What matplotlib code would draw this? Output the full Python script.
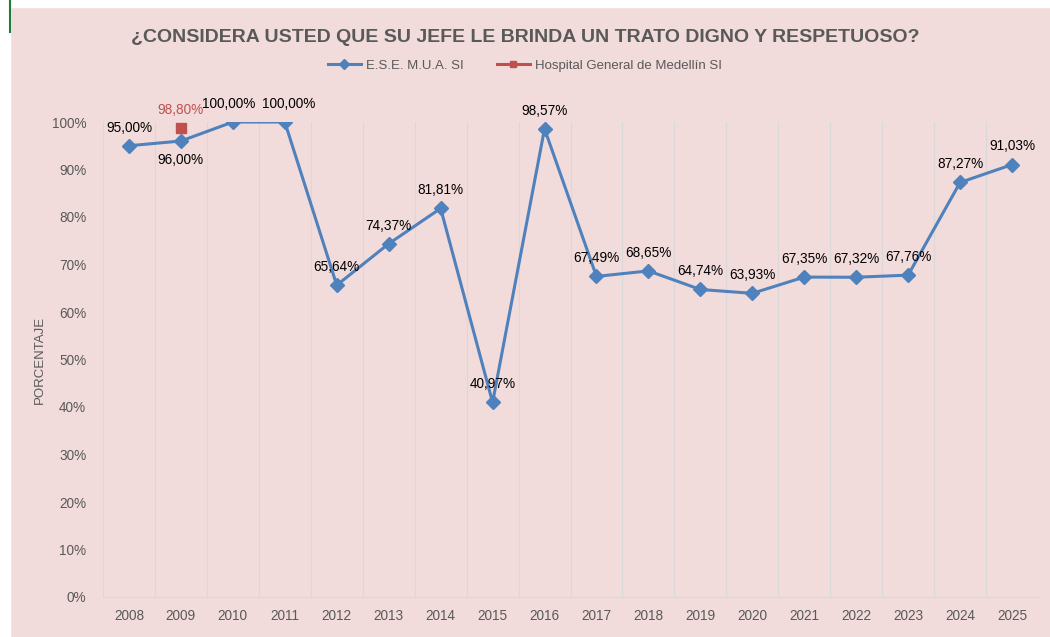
import matplotlib
matplotlib.use("Agg")
import matplotlib.pyplot as plt
from matplotlib.lines import Line2D
from matplotlib.ticker import PercentFormatter

years = [str(y) for y in range(2008, 2026)]
ese = [95.00, 96.00, 100.00, 100.00, 65.64, 74.37, 81.81, 40.97, 98.57,
       67.49, 68.65, 64.74, 63.93, 67.35, 67.32, 67.76, 87.27, 91.03]
hosp_year = "2009"
hosp_val = 98.80

bg = "#F2DCDB"
blue = "#4F81BD"
red = "#C0504D"
gray = "#595959"

plt.rcParams['font.family'] = ['Liberation Sans', 'DejaVu Sans']

fig = plt.figure(figsize=(10.5, 6.37), dpi=100)
fig.patch.set_facecolor(bg)
# white strip on top and left like the sheet border
fig.add_artist(plt.Rectangle((0, 1 - 7/637), 1, 7/637, transform=fig.transFigure,
                             color="white", zorder=0))
fig.add_artist(plt.Rectangle((0, 0), 10/1050, 1, transform=fig.transFigure,
                             color="white", zorder=0))
fig.add_artist(Line2D([10/1050, 10/1050], [0.95, 1], transform=fig.transFigure,
                      color="#1E7B3C", lw=1.5))

ax = fig.add_axes([103/1050, 40/637, 935/1050, 475/637])
ax.set_facecolor(bg)

x = list(range(len(years)))
ax.plot(x, ese, color=blue, lw=2.2, marker="D", markersize=7)
hx = years.index(hosp_year)
ax.plot([hx], [hosp_val], color=red, marker="s", markersize=7, linestyle="none")

def fmt(v):
    return f"{v:.2f}".replace(".", ",") + "%"

for i, v in enumerate(ese):
    dx = 0
    if years[i] == "2010":
        dx = -3
    if years[i] == "2011":
        dx = 3
    if years[i] == "2009":
        ax.annotate(fmt(v), (i, v), xytext=(0, -9), textcoords="offset points",
                    ha="center", va="top", fontsize=9.8, color="black")
    else:
        ax.annotate(fmt(v), (i, v), xytext=(dx, 8), textcoords="offset points",
                    ha="center", va="bottom", fontsize=9.8, color="black")
ax.annotate(fmt(hosp_val), (hx, hosp_val), xytext=(0, 8), textcoords="offset points",
            ha="center", va="bottom", fontsize=9.8, color=red)

ax.set_xlim(-0.5, len(years) - 0.5)
ax.set_ylim(0, 100)
ax.set_yticks(range(0, 101, 10))
ax.yaxis.set_major_formatter(PercentFormatter(decimals=0))
ax.set_xticks(x)
ax.set_xticklabels(years)
ax.set_xticks([i - 0.5 for i in range(len(years) + 1)], minor=True)
ax.grid(axis="x", which="minor", color="#D9D9D9", lw=0.9)
ax.tick_params(axis="both", which="both", length=0, colors=gray, labelsize=9.8)
ax.tick_params(axis="x", pad=9)
ax.tick_params(axis="y", pad=12)
for s in ["top", "right", "left"]:
    ax.spines[s].set_visible(False)
ax.spines["bottom"].set_color("#D9D9D9")

ax.set_ylabel("PORCENTAJE", color=gray, fontsize=9.5, labelpad=4)

fig.text(0.5, 1 - 38/637, "¿CONSIDERA USTED QUE SU JEFE LE BRINDA UN TRATO DIGNO Y RESPETUOSO?",
         ha="center", va="center", fontsize=14, fontweight="bold", color=gray)
handles = [Line2D([], [], color=blue, lw=2.2, marker="D", markersize=5),
           Line2D([], [], color=red, lw=2.2, marker="s", markersize=5)]
fig.legend(handles, ["E.S.E. M.U.A. SI", "Hospital General de Medellín SI"],
           loc="center", bbox_to_anchor=(0.5, 1 - 66/637), ncol=2, frameon=False,
           fontsize=9.5, labelcolor=gray, handlelength=2.5, columnspacing=2.5,
           handletextpad=0.4)

fig.savefig("out.png", dpi=100, facecolor=fig.get_facecolor())
